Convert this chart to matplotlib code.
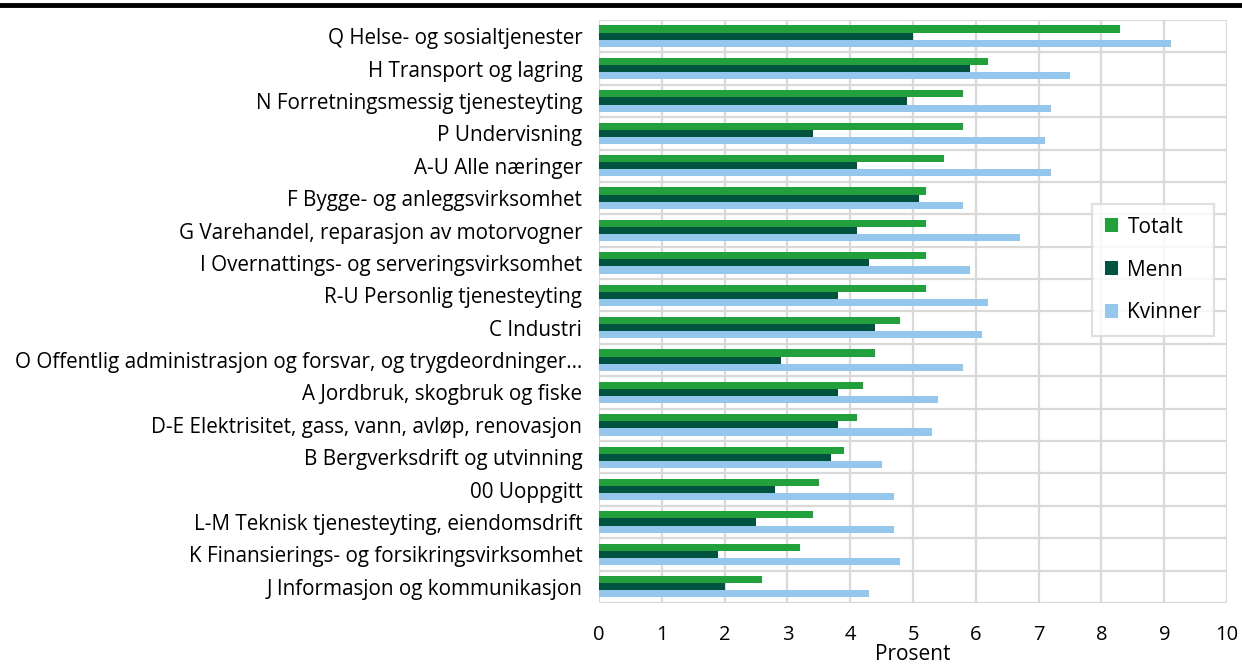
import matplotlib.pyplot as plt
import numpy as np

plt.rcParams["font.family"] = ["Open Sans", "DejaVu Sans"]

# category labels, top to bottom
naeringer = [
    "Q Helse- og sosialtjenester",
    "H Transport og lagring",
    "N Forretningsmessig tjenesteyting",
    "P Undervisning",
    "A-U Alle næringer",
    "F Bygge- og anleggsvirksomhet",
    "G Varehandel, reparasjon av motorvogner",
    "I Overnattings- og serveringsvirksomhet",
    "R-U Personlig tjenesteyting",
    "C Industri",
    "O Offentlig administrasjon og forsvar, og trygdeordninger…",
    "A Jordbruk, skogbruk og fiske",
    "D-E Elektrisitet, gass, vann, avløp, renovasjon",
    "B Bergverksdrift og utvinning",
    "00 Uoppgitt",
    "L-M Teknisk tjenesteyting, eiendomsdrift",
    "K Finansierings- og forsikringsvirksomhet",
    "J Informasjon og kommunikasjon",
]
totalt = [8.3, 6.2, 5.8, 5.8, 5.5, 5.2, 5.2, 5.2, 5.2, 4.8, 4.4, 4.2, 4.1, 3.9, 3.5, 3.4, 3.2, 2.6]
menn = [5.0, 5.9, 4.9, 3.4, 4.1, 5.1, 4.1, 4.3, 3.8, 4.4, 2.9, 3.8, 3.8, 3.7, 2.8, 2.5, 1.9, 2.0]
kvinner = [9.1, 7.5, 7.2, 7.1, 7.2, 5.8, 6.7, 5.9, 6.2, 6.1, 5.8, 5.4, 5.3, 4.5, 4.7, 4.7, 4.8, 4.3]

GREEN = "#21a03c"
DARK = "#00533f"
BLUE = "#95c6ec"
GRID = "#d9d9d9"

fig = plt.figure(figsize=(12.42, 6.66), dpi=100)
ax = fig.add_axes([0.4823, 0.0946, 0.5057, 0.8754])

y = np.arange(len(naeringer))
h = 0.22
ax.barh(y - h, totalt, height=h, color=GREEN, label="Totalt", zorder=3)
ax.barh(y, menn, height=h, color=DARK, label="Menn", zorder=3)
ax.barh(y + h, kvinner, height=h, color=BLUE, label="Kvinner", zorder=3)

ax.set_xlim(0, 10)
ax.set_ylim(len(naeringer) - 0.5, -0.5)
ax.set_xticks(range(0, 11))
ax.set_yticks(y)
ax.set_yticklabels(naeringer, fontsize=14.9)
ax.tick_params(axis="x", labelsize=14.5, length=0, pad=16)
ax.tick_params(axis="y", length=0, pad=12)

# grid: vertical at integers, horizontal between categories
for xv in range(0, 11):
    ax.axvline(xv, color=GRID, lw=1.6, zorder=1)
for yv in np.arange(-0.5, len(naeringer), 1):
    ax.axhline(yv, color=GRID, lw=1.6, zorder=1)
for s in ax.spines.values():
    s.set_visible(False)

ax.set_xlabel("Prosent", fontsize=15, labelpad=-1)

leg = ax.legend(loc="upper left", bbox_to_anchor=(0.785, 0.684), fontsize=15,
                frameon=True, fancybox=False, edgecolor=GRID, handlelength=0.65,
                handleheight=0.65, handletextpad=0.45, labelspacing=1.05,
                borderpad=0.6, borderaxespad=0)
leg.get_frame().set_linewidth(1.6)

# thick rule across the top
fig.add_artist(plt.Line2D([0, 1], [0.992, 0.992], color="black", lw=3.5,
                          transform=fig.transFigure))

fig.savefig("out.png", dpi=100)
